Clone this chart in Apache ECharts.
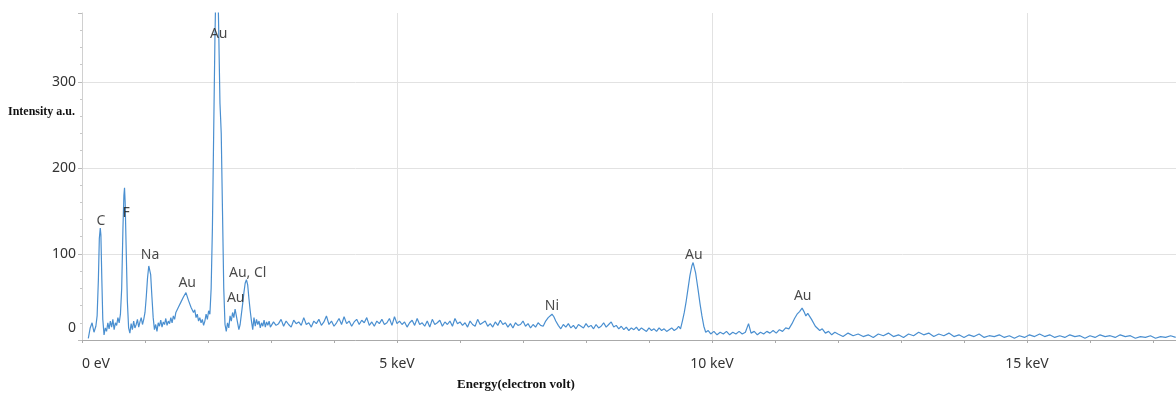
<!DOCTYPE html>
<html>
<head>
<meta charset="utf-8">
<script src="https://cdn.jsdelivr.net/npm/echarts@6/dist/echarts.min.js"></script>
<style>html,body{margin:0;padding:0;background:#fff;}#c{width:1176px;height:397px;}</style>
</head>
<body>
<div id="c"></div>
<script>
// EDS spectrum: [energy keV, counts]
var lowEnergy = [
[0.10,2],[0.13,14],[0.16,20],[0.19,9],[0.22,16],[0.24,28],[0.26,70],[0.275,118],[0.29,130],[0.30,122],[0.315,70],[0.33,24],[0.35,6],[0.37,14],[0.39,10],[0.41,20],[0.43,13],[0.45,22],[0.47,15],[0.49,24],[0.51,12],[0.53,20],[0.55,17],[0.57,26],[0.59,20],[0.61,30],[0.63,60],[0.65,130],[0.665,168],[0.675,177],[0.685,160],[0.70,110],[0.72,45],[0.74,14],[0.76,8],[0.78,19],[0.80,12],[0.82,22],[0.84,14],[0.86,18],[0.88,24],[0.90,15],[0.92,21],[0.94,26],[0.96,18],[0.98,24],[1.00,32],[1.02,50],[1.04,72],[1.06,86],[1.075,87],[1.09,76],[1.11,50],[1.13,26],[1.15,12],[1.17,18],[1.19,10],[1.21,20],[1.23,16],[1.25,23],[1.27,15],[1.29,21],[1.31,18],[1.33,25],[1.35,17],[1.37,22],[1.39,19],[1.41,26],[1.43,20],[1.45,28],[1.47,24],[1.49,32],[1.51,30],[1.53,38],[1.55,36],[1.57,44],[1.59,42],[1.61,50],[1.63,48],[1.65,55],[1.67,57],[1.69,46],[1.71,48],[1.73,38],[1.75,40],[1.77,32],[1.79,35],[1.81,26],[1.83,30],[1.85,22],[1.87,26],[1.89,20],[1.91,24],[1.93,17],[1.95,22],[1.97,30],[1.99,24],[2.01,34],[2.03,30],[2.05,60],[2.07,130],[2.09,240],[2.11,350],[2.13,430],[2.15,440],[2.17,360],[2.19,275],[2.20,258],[2.21,240],[2.23,150],[2.25,60],[2.27,18],[2.29,10],[2.31,20],[2.33,14],[2.35,28],[2.37,22],[2.39,32],[2.41,26],[2.43,36],[2.45,28],[2.47,20],[2.49,12],[2.51,18],[2.53,30],[2.55,42],[2.57,55],[2.59,66],[2.61,70],[2.63,64],[2.65,48],[2.67,34],[2.69,22],[2.71,12],[2.73,26],[2.75,16],[2.77,24],[2.79,18],[2.81,22],[2.83,14],[2.85,20],[2.87,16],[2.89,23],[2.91,15],[2.93,21],[2.95,17],[2.97,22],[2.99,15]
];
var midEnergy = [
[3.04,21],[3.08,17],[3.12,19],[3.16,24],[3.20,16],[3.24,22],[3.28,18],[3.32,15],[3.36,23],[3.40,19],[3.44,21],[3.48,17],[3.52,26],[3.56,18],[3.60,20],[3.64,15],[3.68,22],[3.72,19],[3.76,24],[3.80,17],[3.84,21],[3.88,28],[3.92,18],[3.96,22],[4.00,16],[4.04,20],[4.08,25],[4.12,18],[4.16,27],[4.20,19],[4.24,22],[4.28,16],[4.32,21],[4.36,24],[4.40,18],[4.44,23],[4.48,20],[4.52,26],[4.56,17],[4.60,21],[4.64,16],[4.68,22],[4.72,19],[4.76,24],[4.80,18],[4.84,20],[4.88,25],[4.92,17],[4.96,27],[5.00,19],[5.04,22],[5.08,18],[5.12,21],[5.16,15],[5.20,20],[5.24,23],[5.28,17],[5.32,25],[5.36,18],[5.40,20],[5.44,16],[5.48,22],[5.52,15],[5.56,24],[5.60,18],[5.64,20],[5.68,23],[5.72,16],[5.76,21],[5.80,18],[5.84,22],[5.88,16],[5.92,25],[5.96,19],[6.00,21],[6.04,17],[6.08,20],[6.12,15],[6.16,22],[6.20,18],[6.24,16],[6.28,24],[6.32,18],[6.36,20],[6.40,22],[6.44,16],[6.48,19],[6.52,15],[6.56,21],[6.60,17],[6.64,23],[6.68,18],[6.72,20],[6.76,15],[6.80,19],[6.84,14],[6.88,20],[6.92,17],[6.96,18],[7.00,22],[7.04,16],[7.08,19],[7.12,14],[7.16,18],[7.20,15],[7.24,20],[7.28,17],[7.32,16],[7.36,22],[7.40,26],[7.43,28],[7.46,30],[7.49,27],[7.52,22],[7.56,17],[7.60,13],[7.64,18],[7.68,15],[7.72,19],[7.76,14],[7.80,17],[7.84,13],[7.88,18],[7.92,16],[7.96,14],[8.00,19],[8.04,15],[8.08,17],[8.12,13],[8.16,18],[8.20,14],[8.24,16],[8.28,20],[8.32,15],[8.36,18],[8.40,21],[8.44,15],[8.48,17],[8.52,13],[8.56,16],[8.60,12],[8.64,15],[8.68,11],[8.72,14],[8.76,12],[8.80,15],[8.84,11],[8.88,14],[8.92,12],[8.96,10],[9.00,14],[9.04,11],[9.08,13],[9.12,10],[9.16,14],[9.20,11],[9.24,13],[9.28,10],[9.32,12],[9.36,14],[9.40,11],[9.44,13],[9.47,16],[9.50,13]
];
var auLEnergy = [
[9.53,22],[9.56,32],[9.59,45],[9.62,60],[9.65,75],[9.68,86],[9.70,90],[9.72,88],[9.74,78],[9.76,68],[9.78,58],[9.81,42],[9.84,28],[9.87,16],[9.90,9],[9.94,11],[9.98,7],[10.03,10],[10.08,6],[10.13,9],[10.18,7],[10.23,10],[10.28,6],[10.33,9],[10.38,7],[10.43,10],[10.48,7],[10.53,9],[10.58,19],[10.62,8],[10.67,10],[10.72,6],[10.77,9],[10.82,7],[10.87,10],[10.92,8],[10.97,11],[11.02,8],[11.07,12],[11.12,10],[11.17,14],[11.22,13],[11.27,19],[11.31,25],[11.35,30],[11.39,33],[11.43,37],[11.46,33],[11.49,28],[11.52,31],[11.55,30],[11.58,24],[11.61,22],[11.64,16],[11.67,18],[11.71,11],[11.75,13],[11.80,8],[11.85,10],[11.90,6],[11.95,9]
];
var highEnergy = [
[12.00,7],[12.08,4],[12.16,8],[12.24,5],[12.32,7],[12.40,4],[12.48,6],[12.56,3],[12.64,7],[12.72,5],[12.80,8],[12.88,4],[12.96,6],[13.04,3],[13.12,7],[13.20,5],[13.28,9],[13.36,6],[13.44,8],[13.52,4],[13.60,7],[13.68,5],[13.76,8],[13.84,4],[13.92,6],[14.00,3],[14.08,6],[14.16,4],[14.24,7],[14.32,3],[14.40,5],[14.48,4],[14.56,6],[14.64,3],[14.72,5],[14.80,2],[14.88,5],[14.96,3],[15.04,6],[15.12,4],[15.20,7],[15.28,4],[15.36,6],[15.44,3],[15.52,5],[15.60,3],[15.68,6],[15.76,4],[15.84,5],[15.92,2],[16.00,5],[16.08,3],[16.16,6],[16.24,4],[16.32,5],[16.40,3],[16.48,6],[16.56,4],[16.64,5],[16.72,2],[16.80,4],[16.88,3],[16.96,5],[17.04,2],[17.12,4],[17.20,3],[17.28,5],[17.36,3]
];
// peak annotations
var peakNames  = ['C', 'F', 'Na', 'Au', 'Au', 'Au', 'Au, Cl', 'Ni', 'Au', 'Au'];
var peakKeV    = [0.30, 0.70, 1.08, 1.67, 2.17, 2.44, 2.63, 7.46, 9.71, 11.44];
var peakCounts = [138, 148, 99, 66, 356, 49, 78, 40, 99, 51];
var yTicks = [0, 100, 200, 300];

var spectrum = lowEnergy.concat(midEnergy, auLEnergy, highEnergy);
var labelData = peakNames.map(function (n, i) { return { name: n, value: [peakKeV[i], peakCounts[i]] }; });

var chart = echarts.init(document.getElementById('c'), null, { renderer: 'canvas' });
var sans = 'Noto Sans';
var grid = '#e2e2e2', none = 'rgba(0,0,0,0)';
chart.setOption({
  animation: false,
  backgroundColor: '#ffffff',
  title: [
    { text: 'Intensity a.u.', left: 3, top: 101, textStyle: { fontFamily: 'Liberation Serif', fontWeight: 'bold', fontSize: 12, color: '#111' } },
    { text: 'Energy(electron volt)', left: 452, top: 373, textStyle: { fontFamily: 'Liberation Serif', fontWeight: 'bold', fontSize: 13, color: '#111' } }
  ],
  grid: { left: 82, right: 0, top: 13, bottom: 57, containLabel: false },
  xAxis: {
    type: 'value', min: 0, max: 17.365, interval: 5,
    axisLine: { show: true, lineStyle: { color: '#aaaaaa', width: 1 } },
    axisTick: { show: true, length: 3, lineStyle: { color: '#aaaaaa' } },
    minorTick: { show: true, splitNumber: 5, length: 3, lineStyle: { color: '#aaaaaa' } },
    splitLine: { show: true, lineStyle: { color: [none, grid, grid, grid, none], width: 1 } },
    axisLabel: {
      fontFamily: sans, fontSize: 14, color: '#333', margin: 17,
      alignMinLabel: 'left', showMaxLabel: false,
      formatter: function (v) { return v === 0 ? '0 eV' : v + ' keV'; }
    }
  },
  yAxis: {
    type: 'value', min: 0, max: 380, interval: 100,
    axisLine: { show: true, lineStyle: { color: '#d0d0d0', width: 1 } },
    axisTick: { show: true, length: 4, lineStyle: { color: '#bbbbbb' } },
    minorTick: { show: true, splitNumber: 5, length: 2, lineStyle: { color: '#c8c8c8' } },
    splitLine: { show: true, lineStyle: { color: [none, grid, grid, grid, none], width: 1 } },
    axisLabel: {
      fontFamily: sans, fontSize: 14, color: '#333', margin: 6, showMaxLabel: false,
      formatter: function (v) { return yTicks.indexOf(v) === 0 ? '{z|' + v + '}' : String(v); },
      rich: { z: { fontFamily: sans, fontSize: 14, color: '#333', padding: [0, 0, 24, 0] } }
    }
  },
  series: [
    {
      type: 'line', data: spectrum, showSymbol: false, symbol: 'none', clip: true,
      lineStyle: { color: '#4a8fd0', width: 1.2 }, z: 3
    },
    {
      type: 'scatter', data: labelData, symbolSize: 1, silent: true, z: 4,
      itemStyle: { color: 'rgba(0,0,0,0)' },
      label: { show: true, position: 'inside', formatter: '{b}', fontFamily: sans, fontSize: 14, color: '#1a1a1a' }
    }
  ]
});
</script>
</body>
</html>
